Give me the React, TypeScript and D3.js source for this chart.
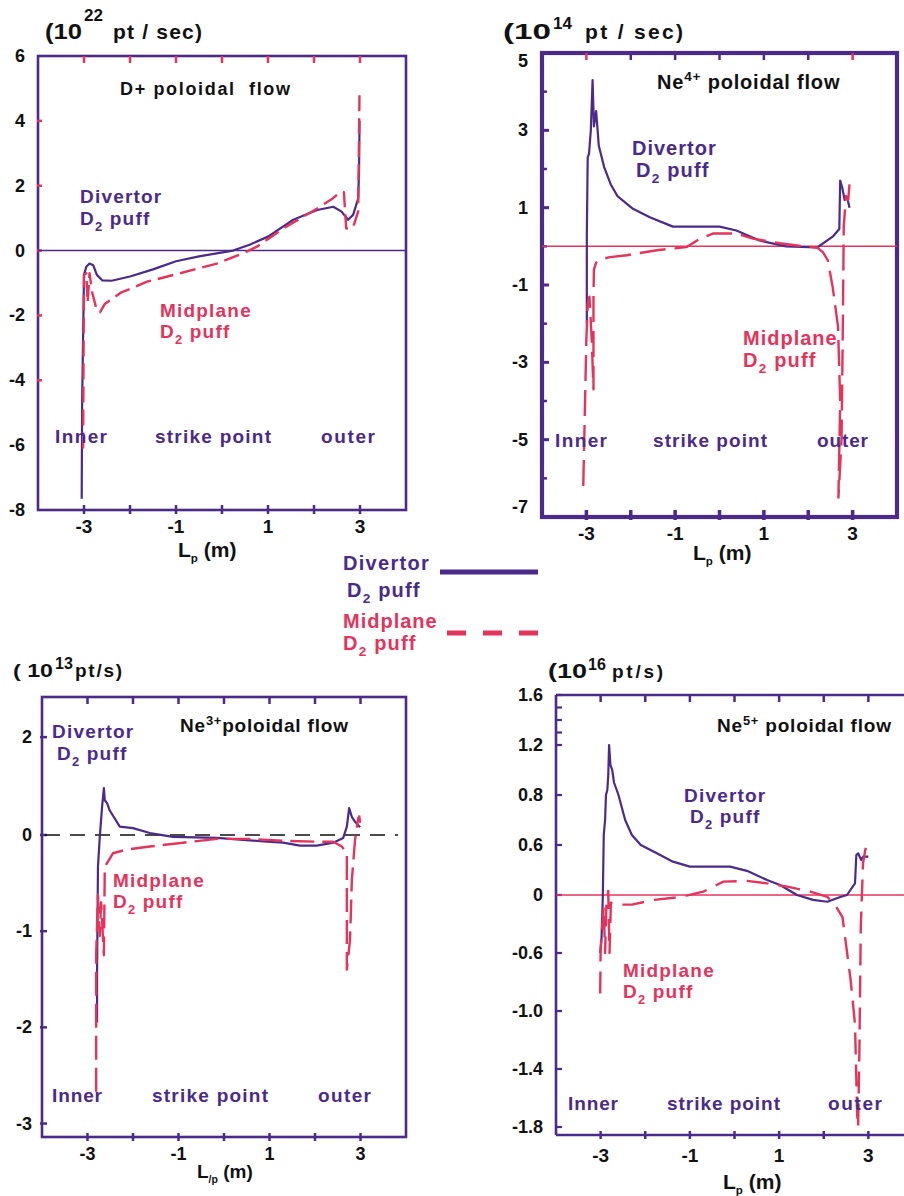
import React from 'react';
import * as d3 from 'd3';

type Pt = [number, number];

const PURPLE = '#4b2a8a';
const RED = '#e4345c';
const BLACK = '#111111';
const FONT = '"Liberation Sans", Arial, Helvetica, sans-serif';

// ---------- shared x axis ----------
const xTickValues = [-3, -2, -1, 0, 1, 2, 3];
const xLabelValues = [-3, -1, 1, 3];

// ---------- Panel 1: D+ poloidal flow (10^22 pt/sec) ----------
const dPlusYTicks = [6, 4, 2, 0, -2, -4, -6, -8];
const dPlusRedTicks = [4, 2, 0, -2, -4];
const dPlusDivertor: Pt[] = [
  [-3.05, -7.65], [-3.04, -4.6], [-3.0, -0.75], [-2.95, -0.5], [-2.88, -0.4], [-2.8, -0.45],
  [-2.72, -0.75], [-2.6, -0.92], [-2.4, -0.93], [-2.0, -0.8], [-1.5, -0.58], [-1.0, -0.33],
  [-0.5, -0.18], [0.24, 0], [0.6, 0.18], [1.0, 0.43], [1.55, 0.95], [2.07, 1.25], [2.42, 1.35],
  [2.6, 1.2], [2.74, 0.95], [2.85, 1.1], [2.96, 1.6], [2.98, 2.5], [2.99, 4.0],
];
const dPlusMidplane: Pt[] = [
  [-3.02, -6.1], [-3.0, -0.75], [-2.95, -0.7], [-2.92, -1.6], [-2.88, -0.7], [-2.82, -1.3],
  [-2.72, -1.85], [-2.65, -1.9], [-2.55, -1.65], [-2.2, -1.3], [-1.63, -0.96], [-0.91, -0.7],
  [-0.11, -0.4], [0.46, -0.08], [0.76, 0.12], [1.33, 0.68], [2.07, 1.3], [2.4, 1.6], [2.57, 1.8],
  [2.65, 1.8], [2.7, 0.68], [2.85, 0.72], [2.96, 1.2], [2.99, 5.0],
];

// ---------- Panel 2: Ne4+ poloidal flow (10^14 pt/sec) ----------
const ne4YTicks = [5, 3, 1, -1, -3, -5, -7];
const ne4MinorTicks = [4, 2, 0, -2, -4, -6];
const ne4Divertor: Pt[] = [
  [-2.99, -2.0], [-2.99, 0.3], [-2.97, 2.3], [-2.94, 2.4], [-2.9, 3.0], [-2.86, 4.3], [-2.83, 3.1],
  [-2.78, 3.5], [-2.72, 2.6], [-2.6, 2.05], [-2.45, 1.6], [-2.3, 1.3], [-1.95, 0.97], [-1.57, 0.75],
  [-1.05, 0.51], [0.0, 0.51], [0.38, 0.41], [0.9, 0.15], [1.5, 0.0], [2.2, -0.03], [2.55, 0.25],
  [2.7, 0.45], [2.72, 1.7], [2.77, 1.5], [2.82, 1.2], [2.88, 1.25], [2.93, 1.0],
];
const ne4Midplane: Pt[] = [
  [-3.07, -6.2], [-3.0, -2.4], [-2.97, -1.5], [-2.93, -1.3], [-2.88, -2.4], [-2.84, -3.7],
  [-2.84, -1.3], [-2.83, -0.6], [-2.78, -0.42], [-2.65, -0.33], [-2.47, -0.28], [-2.09, -0.23],
  [-1.41, -0.1], [-0.74, -0.02], [-0.44, 0.2], [-0.15, 0.33], [0.38, 0.33], [0.75, 0.2],
  [1.36, 0.08], [1.88, 0.0], [2.2, -0.03], [2.33, -0.15], [2.44, -0.36], [2.55, -1.05],
  [2.67, -2.07], [2.72, -4.0], [2.68, -6.5], [2.75, -5.0], [2.78, -2.0], [2.8, 0.5], [2.85, 1.3],
  [2.9, 1.2], [2.93, 1.6],
];

// ---------- Panel 3: Ne3+ poloidal flow (10^13 pt/s) ----------
const ne3YTicks = [2, 0, -1, -2, -3];
const ne3Divertor: Pt[] = [
  [-2.79, -1.95], [-2.79, -1.45], [-2.77, -0.33], [-2.73, -0.02], [-2.68, 0.57], [-2.64, 0.96],
  [-2.62, 0.71], [-2.57, 0.65], [-2.51, 0.5], [-2.29, 0.17], [-2.0, 0.14], [-1.63, 0.04],
  [-1.12, -0.02], [-0.15, -0.03], [0.95, -0.07], [1.3, -0.08], [1.67, -0.11], [2.04, -0.11],
  [2.4, -0.08], [2.62, -0.03], [2.7, 0.17], [2.75, 0.55], [2.81, 0.37], [2.88, 0.27], [2.99, 0.16],
];
const ne3Midplane: Pt[] = [
  [-2.81, -2.67], [-2.81, -1.25], [-2.77, -0.62], [-2.73, -1.05], [-2.7, -0.7], [-2.64, -1.25],
  [-2.62, -0.33], [-2.44, -0.19], [-2.13, -0.15], [-1.63, -0.12], [-0.9, -0.08], [-0.15, -0.04],
  [0.57, -0.04], [1.3, -0.06], [2.04, -0.07], [2.4, -0.07], [2.59, -0.12], [2.7, -0.19],
  [2.7, -1.4], [2.77, -1.09], [2.81, -0.47], [2.88, -0.05], [2.95, 0.35], [2.99, 0.27], [2.97, 0.4],
];

// ---------- Panel 4: Ne5+ poloidal flow (10^16 pt/s) ----------
const ne5YTicks = [1.6, 1.2, 0.8, 0.6, 0, -0.6, -1.0, -1.4, -1.8];
const ne5MinorTicks = [1.5, 1.4, 1.3];
const ne5Divertor: Pt[] = [
  [-3.01, -0.6], [-2.98, -0.45], [-2.96, -0.15], [-2.95, 0.0], [-2.93, 0.64], [-2.9, 0.7],
  [-2.88, 0.8], [-2.85, 0.84], [-2.83, 0.95], [-2.81, 1.2], [-2.78, 1.04], [-2.74, 1.0],
  [-2.7, 0.9], [-2.6, 0.8], [-2.45, 0.7], [-2.3, 0.64], [-2.1, 0.6], [-1.74, 0.5], [-1.38, 0.4],
  [-1.0, 0.34], [-0.1, 0.34], [0.28, 0.29], [0.73, 0.18], [1.02, 0.12], [1.4, 0.0], [1.76, -0.05],
  [2.08, -0.07], [2.37, -0.02], [2.52, 0.0], [2.7, 0.14], [2.73, 0.48], [2.77, 0.5], [2.84, 0.42],
  [2.88, 0.46], [3.0, 0.46],
];
const ne5Midplane: Pt[] = [
  [-3.01, -0.88], [-3.0, -0.58], [-2.97, -0.35], [-2.93, -0.12], [-2.9, -0.6], [-2.87, -0.1],
  [-2.83, 0.05], [-2.8, -0.6], [-2.77, -0.08], [-2.6, -0.1], [-2.3, -0.1], [-1.8, -0.05],
  [-1.2, -0.02], [-0.7, 0.04], [-0.25, 0.16], [0.28, 0.17], [0.73, 0.14], [1.18, 0.1], [1.7, 0.04],
  [2.08, -0.02], [2.25, -0.1], [2.42, -0.23], [2.6, -0.78], [2.7, -1.09], [2.75, -1.72],
  [2.77, -1.8], [2.8, -1.25], [2.83, -0.33], [2.88, 0.38], [2.93, 0.54], [2.97, 0.6],
];

// ---------- scales ----------
const x1 = d3.scaleLinear().domain([-4, 4]).range([38, 406]);
const y1 = d3.scaleLinear().domain([-8, 6]).range([510, 56]);
const x2 = d3.scaleLinear().domain([-4, 4]).range([542, 897]);
const y2 = d3.scaleLinear().domain([-7, 5]).range([517, 53]);
const x3 = d3.scaleLinear().domain([-4, 4]).range([42, 406]);
const y3 = d3.scaleLinear().domain([2.82, 0, -3.14]).range([697, 835, 1137]);
const x4 = d3.scaleLinear().domain([-4, 4]).range([556, 913]);
const y4 = d3
  .scaleLinear()
  .domain(ne5YTicks)
  .range(ne5YTicks.map((_, i) => (i <= 4 ? 695 + i * 50 : 895 + (i - 4) * 58)));

type Scale = d3.ScaleLinear<number, number>;
const pathOf = (xs: Scale, ys: Scale, d: Pt[]) =>
  d3.line<Pt>().x((p) => xs(p[0])).y((p) => ys(p[1]))(d) || '';

const T = ({ x, y, size = 19, fill = PURPLE, anchor = 'start', w, ls, adj = 'spacing', children }: any) => (
  <text
    x={x}
    y={y}
    fontSize={size}
    fontWeight="bold"
    fill={fill}
    textAnchor={anchor}
    fontFamily={FONT}
    textLength={w}
    lengthAdjust={w ? adj : undefined}
    letterSpacing={ls}
    style={{ whiteSpace: 'pre' }}
  >
    {children}
  </text>
);

const Puff = ({ x, y, fill = PURPLE, size = 19 }: any) => (
  <text x={x} y={y} fontSize={size} fontWeight="bold" fill={fill} fontFamily={FONT} letterSpacing={1.2} style={{ whiteSpace: 'pre' }}>
    <tspan>D</tspan>
    <tspan fontSize={size * 0.68} dy={size * 0.3}>2</tspan>
    <tspan dy={-size * 0.3}> puff</tspan>
  </text>
);

const Lp = ({ x, y, size = 21, sub = 'p' }: any) => (
  <text x={x} y={y} fontSize={size} fontWeight="bold" fill={BLACK} fontFamily={FONT} style={{ whiteSpace: 'pre' }}>
    <tspan>L</tspan>
    <tspan fontSize={size * 0.55} dy={size * 0.25}>{sub}</tspan>
    <tspan dy={-size * 0.25}> (m)</tspan>
  </text>
);

const Flow = ({ x, y, size, ion, sup, w }: any) => (
  <text x={x} y={y} fontSize={size} fontWeight="bold" fill={BLACK} fontFamily={FONT} letterSpacing={0.8} style={{ whiteSpace: 'pre' }}>
    <tspan>{ion}</tspan>
    <tspan fontSize={size * 0.68} dy={-size * 0.38}>{sup}</tspan>
    <tspan dy={size * 0.38}>{w}</tspan>
  </text>
);

const XAxisTicks = ({ xs, y0, y1b, color = PURPLE, width = 2.5 }: any) => (
  <g>
    {xTickValues.map((v) => (
      <line key={v} x1={xs(v)} x2={xs(v)} y1={y0} y2={y1b} stroke={color} strokeWidth={width} />
    ))}
  </g>
);

export default function App() {
  const lw = 2.2;
  const rw = 2.4;
  return (
    <svg
      width={904}
      height={1196}
      viewBox="0 0 904 1196"
      style={{ position: 'absolute', left: 0, top: 0, background: '#fff' }}
    >
      <rect x={0} y={0} width={904} height={1196} fill="#fff" />

      {/* ================= Panel 1 ================= */}
      <g>
        <T x={45} y={39} size={22} fill={BLACK} w={37} adj="spacingAndGlyphs">(10</T>
        <T x={84} y={21} size={17} fill={BLACK}>22</T>
        <T x={113} y={39} size={21} fill={BLACK} w={89}>pt / sec)</T>
        <rect x={x1(-4)} y={y1(6)} width={x1(4) - x1(-4)} height={y1(-8) - y1(6)} fill="none" stroke={PURPLE} strokeWidth={2.6} />
        {xTickValues.map((v) => (
          <line key={'t' + v} x1={x1(v)} x2={x1(v)} y1={y1(6)} y2={y1(6) + 7} stroke={RED} strokeWidth={2.5} />
        ))}
        <XAxisTicks xs={x1} y0={y1(-8) - 5} y1b={y1(-8) + 4} />
        {dPlusRedTicks.map((v) => (
          <line key={'r' + v} x1={x1(-4) - 1} x2={x1(-4) + 4} y1={y1(v)} y2={y1(v)} stroke={RED} strokeWidth={2.5} />
        ))}
        {dPlusYTicks.map((v) => (
          <T key={v} x={25} y={y1(v) + 6} size={18} fill={BLACK} anchor="end">{String(v)}</T>
        ))}
        {xLabelValues.map((v) => (
          <T key={v} x={x1(v)} y={533} size={19} fill={BLACK} anchor="middle">{String(v)}</T>
        ))}
        <Lp x={178} y={557} size={21} />
        <line x1={x1(-4)} x2={x1(4)} y1={y1(0)} y2={y1(0)} stroke={PURPLE} strokeWidth={1.5} />
        <path d={pathOf(x1, y1, dPlusDivertor)} fill="none" stroke={PURPLE} strokeWidth={lw} strokeLinejoin="round" />
        <path d={pathOf(x1, y1, dPlusMidplane)} fill="none" stroke={RED} strokeWidth={rw} strokeDasharray="16,7" strokeLinejoin="round" />
        <T x={120} y={95} size={18} fill={BLACK} w={170}>D+ poloidal  flow</T>
        <T x={80} y={203} ls={1.2}>Divertor</T>
        <Puff x={80} y={225} />
        <T x={160} y={317} fill={RED} ls={1.2}>Midplane</T>
        <Puff x={160} y={338} fill={RED} />
        <T x={55} y={443} w={52}>Inner</T>
        <T x={155} y={443} w={116}>strike point</T>
        <T x={321} y={443} w={54}>outer</T>
      </g>

      {/* ================= Panel 2 ================= */}
      <g>
        <T x={503} y={39} size={22} fill={BLACK} w={48} adj="spacingAndGlyphs">(10</T>
        <T x={553} y={29} size={17} fill={BLACK}>14</T>
        <T x={585} y={39} size={21} fill={BLACK} w={98}>pt / sec)</T>
        <rect x={x2(-4)} y={y2(5)} width={x2(4) - x2(-4)} height={y2(-7) - y2(5)} fill="none" stroke={PURPLE} strokeWidth={4.2} />
        {xTickValues.map((v) => (
          <line key={'t' + v} x1={x2(v)} x2={x2(v)} y1={y2(5)} y2={y2(5) + 7} stroke={v === -3 || v === 3 ? RED : PURPLE} strokeWidth={2.5} />
        ))}
        <XAxisTicks xs={x2} y0={y2(-7) - 7} y1b={y2(-7) + 3} width={3.5} />
        {ne4MinorTicks.map((v) => (
          <line key={'m' + v} x1={x2(-4)} x2={x2(-4) + 5} y1={y2(v)} y2={y2(v)} stroke={PURPLE} strokeWidth={2.5} />
        ))}
        {ne4YTicks.map((v) => (
          <line key={'M' + v} x1={x2(-4)} x2={x2(-4) + 7} y1={y2(v)} y2={y2(v)} stroke={PURPLE} strokeWidth={3} />
        ))}
        {ne4YTicks.map((v) => (
          <T key={v} x={528} y={Math.min(Math.max(y2(v), 61), 507) + 6} size={18} fill={BLACK} anchor="end">{String(v)}</T>
        ))}
        {xLabelValues.map((v) => (
          <T key={v} x={x2(v)} y={540} size={19} fill={BLACK} anchor="middle">{String(v)}</T>
        ))}
        <Lp x={693} y={560} size={21} />
        <line x1={x2(-4)} x2={x2(4)} y1={y2(0)} y2={y2(0)} stroke={RED} strokeWidth={1.5} />
        <path d={pathOf(x2, y2, ne4Divertor)} fill="none" stroke={PURPLE} strokeWidth={lw} strokeLinejoin="round" />
        <path d={pathOf(x2, y2, ne4Midplane)} fill="none" stroke={RED} strokeWidth={rw} strokeDasharray="26,9" strokeLinejoin="round" />
        <Flow x={657} y={89} size={20} ion="Ne" sup="4+" w=" poloidal flow" />
        <T x={632} y={155} size={20} ls={1}>Divertor</T>
        <Puff x={636} y={177} size={20} />
        <T x={743} y={345} size={20} fill={RED} ls={1}>Midplane</T>
        <Puff x={743} y={367} fill={RED} size={20} />
        <T x={555} y={447} w={52}>Inner</T>
        <T x={653} y={447} w={114}>strike point</T>
        <T x={817} y={447} w={51}>outer</T>
      </g>

      {/* ================= Legend ================= */}
      <g>
        <T x={343} y={570} size={20} ls={1.3}>Divertor</T>
        <Puff x={347} y={597} size={20} />
        <line x1={440} x2={538} y1={572} y2={572} stroke={PURPLE} strokeWidth={5} />
        <T x={343} y={628} size={20} fill={RED} ls={1}>Midplane</T>
        <Puff x={343} y={650} size={20} fill={RED} />
        <line x1={447} x2={540} y1={633} y2={633} stroke={RED} strokeWidth={5} strokeDasharray="19,17" />
      </g>

      {/* ================= Panel 3 ================= */}
      <g>
        <T x={13} y={677} size={19} fill={BLACK} w={40} adj="spacingAndGlyphs">( 10</T>
        <T x={55} y={669} size={16} fill={BLACK}>13</T>
        <T x={75} y={677} size={19} fill={BLACK} w={47}>pt/s)</T>
        <rect x={x3(-4)} y={y3(2.82)} width={x3(4) - x3(-4)} height={y3(-3.14) - y3(2.82)} fill="none" stroke={PURPLE} strokeWidth={2.6} />
        {xTickValues.map((v) => (
          <line key={'t' + v} x1={x3(v)} x2={x3(v)} y1={y3(2.82)} y2={y3(2.82) + 7} stroke={PURPLE} strokeWidth={2.5} />
        ))}
        <XAxisTicks xs={x3} y0={y3(-3.14) - 4} y1b={y3(-3.14) + 4} />
        {ne3YTicks.map((v) => (
          <line key={'m' + v} x1={x3(-4) - 2} x2={x3(-4) + 5} y1={y3(v)} y2={y3(v)} stroke={PURPLE} strokeWidth={2.5} />
        ))}
        {ne3YTicks.map((v) => (
          <T key={v} x={32} y={y3(v) + 6} size={18} fill={BLACK} anchor="end">{String(v)}</T>
        ))}
        {xLabelValues.map((v) => (
          <T key={v} x={x3(v)} y={1160} size={18} fill={BLACK} anchor="middle">{String(v)}</T>
        ))}
        <Lp x={197} y={1178} size={19} sub="/p" />
        <line x1={45} x2={398} y1={y3(0)} y2={y3(0)} stroke={BLACK} strokeWidth={1.6} strokeDasharray="15,10" />
        <path d={pathOf(x3, y3, ne3Divertor)} fill="none" stroke={PURPLE} strokeWidth={lw} strokeLinejoin="round" />
        <path d={pathOf(x3, y3, ne3Midplane)} fill="none" stroke={RED} strokeWidth={rw} strokeDasharray="24,8" strokeLinejoin="round" />
        <Flow x={180} y={732} size={19} ion="Ne" sup="3+" w="poloidal flow" />
        <T x={52} y={738} ls={1.2}>Divertor</T>
        <Puff x={57} y={760} />
        <T x={113} y={887} fill={RED} ls={1.2}>Midplane</T>
        <Puff x={113} y={908} fill={RED} />
        <T x={52} y={1102} w={50}>Inner</T>
        <T x={152} y={1102} w={116}>strike point</T>
        <T x={318} y={1102} w={53}>outer</T>
      </g>

      {/* ================= Panel 4 ================= */}
      <g>
        <T x={548} y={678} size={20} fill={BLACK} w={39} adj="spacingAndGlyphs">(10</T>
        <T x={588} y={670} size={16} fill={BLACK}>16</T>
        <T x={612} y={678} size={19} fill={BLACK} w={51}>pt/s)</T>
        <line x1={x4(-4)} x2={904} y1={y4(1.6)} y2={y4(1.6)} stroke={PURPLE} strokeWidth={2.6} />
        <line x1={x4(-4)} x2={904} y1={1135} y2={1135} stroke={PURPLE} strokeWidth={2.6} />
        <line x1={x4(-4)} x2={x4(-4)} y1={y4(1.6)} y2={1135} stroke={PURPLE} strokeWidth={2.6} />
        {xTickValues.map((v) => (
          <line key={'t' + v} x1={x4(v)} x2={x4(v)} y1={y4(1.6)} y2={y4(1.6) + 7} stroke={PURPLE} strokeWidth={2.5} />
        ))}
        <XAxisTicks xs={x4} y0={1131} y1b={1139} />
        {ne5YTicks.concat(ne5MinorTicks).map((v) => (
          <line key={'m' + v} x1={x4(-4)} x2={x4(-4) + 6} y1={y4(v)} y2={y4(v)} stroke={PURPLE} strokeWidth={2.2} />
        ))}
        {ne5YTicks.map((v) => (
          <T key={v} x={543} y={y4(v) + 6} size={18} fill={BLACK} anchor="end">{v === 0 ? '0' : v.toFixed(1)}</T>
        ))}
        {xLabelValues.map((v) => (
          <T key={v} x={x4(v)} y={1162} size={19} fill={BLACK} anchor="middle">{String(v)}</T>
        ))}
        <Lp x={723} y={1189} size={21} />
        <line x1={x4(-4)} x2={904} y1={y4(0)} y2={y4(0)} stroke={RED} strokeWidth={1.5} />
        <path d={pathOf(x4, y4, ne5Divertor)} fill="none" stroke={PURPLE} strokeWidth={lw} strokeLinejoin="round" />
        <path d={pathOf(x4, y4, ne5Midplane)} fill="none" stroke={RED} strokeWidth={rw} strokeDasharray="22,10" strokeLinejoin="round" />
        <Flow x={717} y={732} size={19} ion="Ne" sup="5+" w=" poloidal flow" />
        <T x={684} y={802} ls={1.2}>Divertor</T>
        <Puff x={690} y={823} />
        <T x={623} y={977} fill={RED} ls={1.2}>Midplane</T>
        <Puff x={623} y={998} fill={RED} />
        <T x={568} y={1110} w={50}>Inner</T>
        <T x={667} y={1110} w={113}>strike point</T>
        <T x={828} y={1110} w={54}>outer</T>
      </g>
    </svg>
  );
}
